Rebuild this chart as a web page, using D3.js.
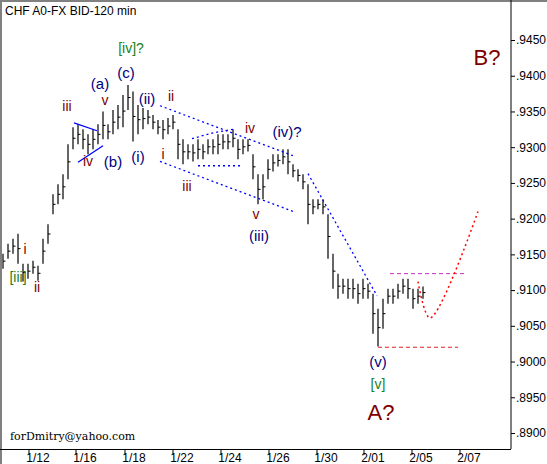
<!DOCTYPE html>
<html><head><meta charset="utf-8">
<script src="https://cdn.jsdelivr.net/npm/d3@7"></script>
<style>body{margin:0;background:#fff}svg{display:block;font-family:Arial,"Liberation Sans",sans-serif}</style>
</head><body><svg id="c" width="547" height="464"></svg>
<script>
const highs=[.9151,.9165,.9172,.9179,.9137,.9137,.9141,.9134,.9172,.9192,.9234,.9248,.9262,.9304,.9328,.9332,.9325,.9318,.9325,.9332,.9350,.9332,.9352,.9359,.9373,.9387,.9378,.9359,.9355,.9352,.9345,.9338,.9338,.9341,.9345,.9325,.9311,.9304,.9304,.9311,.9304,.9311,.9311,.9318,.9318,.9318,.9325,.9311,.9311,.9311,.9290,.9262,.9262,.9283,.9290,.9290,.9297,.9297,.9276,.9269,.9262,.9248,.9227,.9227,.9227,.9206,.9151,.9123,.9116,.9116,.9116,.9109,.9116,.9109,.9095,.9074,.9088,.9102,.9102,.9109,.9116,.9116,.9102,.9102,.9105];
const lows=[.9130,.9144,.9151,.9137,.9112,.9116,.9123,.9113,.9137,.9165,.9206,.9220,.9227,.9255,.9297,.9304,.9297,.9290,.9297,.9304,.9311,.9311,.9318,.9325,.9328,.9352,.9308,.9318,.9325,.9332,.9325,.9318,.9311,.9318,.9325,.9283,.9276,.9283,.9280,.9283,.9283,.9290,.9290,.9290,.9297,.9297,.9300,.9283,.9290,.9294,.9255,.9220,.9227,.9255,.9266,.9273,.9276,.9262,.9258,.9252,.9241,.9192,.9206,.9213,.9206,.9144,.9102,.9088,.9095,.9088,.9088,.9081,.9088,.9088,.9039,.9021,.9046,.9081,.9081,.9088,.9095,.9088,.9074,.9081,.9088];
const dateLabels=["1/12","1/16","1/18","1/22","1/24","1/26","1/30","2/01","2/05","2/07"];
const dateIdx=[7,16.4,26.2,35.8,45.4,55,64.6,74,83.6,93.2];
const priceTicks=d3.range(0.8900,0.94501,0.005);
const labels=[
 ["[iii]",3,.9118,"g"],["i",4.4,.9157,"m"],["ii",6.8,.9105,"m"],["iii",12.8,.9358,"m"],["v",20.4,.9366,"m"],
 ["iv",17,.9280,"m"],["(b)",22,.9280,"b"],["(a)",19.4,.9389,"b"],["(c)",24.6,.9404,"b"],["(i)",27,.9287,"b"],
 ["(ii)",28.8,.9368,"b"],["ii",33.6,.9371,"m"],["i",32,.9290,"m"],["iii",36.8,.9245,"m"],["[iv]?",25.6,.9439,"g"],
 ["iv",49.4,.9327,"m"],["(iv)?",56.8,.9322,"b"],["v",50.6,.9206,"m"],["(iii)",51.2,.9176,"b"],["(v)",75,.9000,"b"],
 ["[v]",75,.8968,"g"],["A?",75.6,.8928,"M"],["B?",96.8,.9425,"M"]];
const solidLines=[[[14.2,.9334],[18.8,.9323]],[[15,.9279],[20,.9302]]];
const blueDash=[[[31.4,.9358],[58.4,.9287]],[[31.4,.9280],[58.4,.9209]],[[37.8,.9312],[42,.9320],[46,.9325]],[[39,.9274],[47.8,.9274]],[[61,.9263],[74.8,.9092]]];
const magentaLine=[[77.4,.9123],[92.4,.9123]];
const redLine=[[75,.9020],[91,.9020]];
const forecast=[[83,.9112],[85.4,.9061],[95,.9210]];

const svg=d3.select("#c");
const x=d3.scaleLinear().domain([-0.6,101.6]).range([0,511]);
const y=d3.scaleLinear().domain([0.8900,0.9450]).range([433,40]);
const line=d3.line().x(d=>x(d[0])).y(d=>y(d[1]));

svg.append("line").attr("x1",0).attr("x2",547).attr("y1",1).attr("y2",1).attr("stroke","#808080").attr("stroke-width",2);
svg.append("line").attr("x1",1).attr("x2",1).attr("y1",0).attr("y2",464).attr("stroke","#808080").attr("stroke-width",2);
svg.append("text").attr("x",5).attr("y",15).attr("font-size",12).text("CHF A0-FX BID-120 min");
svg.append("text").attr("x",10).attr("y",440).attr("font-size",11).attr("font-family","'DejaVu Serif','Liberation Serif',serif").text("forDmitry@yahoo.com");

const ya=svg.append("g").attr("transform","translate(511,0)").call(d3.axisRight(y).tickValues(priceTicks).tickSize(4).tickFormat(d=>d3.format(".4f")(d).slice(1)));
ya.select(".domain").attr("d","M0,0V449");
ya.selectAll("text").attr("font-size",12).attr("font-family","Arial,'Liberation Sans'").attr("x",5);
svg.append("line").attr("x1",0).attr("x2",511).attr("y1",449.5).attr("y2",449.5).attr("stroke","#000");
const xa=svg.append("g");
dateIdx.forEach((d,i)=>{
 xa.append("line").attr("x1",x(d)-9).attr("x2",x(d)-9).attr("y1",449).attr("y2",455).attr("stroke","#000");
 xa.append("text").attr("x",x(d)).attr("y",462).attr("text-anchor","middle").attr("font-size",12).text(dateLabels[i]);
});

svg.append("g").selectAll("line").data(highs).join("line")
 .attr("x1",(d,i)=>x(i)).attr("x2",(d,i)=>x(i)).attr("y1",d=>y(d)).attr("y2",(d,i)=>y(lows[i]))
 .attr("stroke","#000").attr("stroke-width",1.2);
svg.append("g").selectAll("line").data(highs).join("line")
 .attr("x1",(d,i)=>x(i)).attr("x2",(d,i)=>x(i)+2.5).attr("y1",(d,i)=>y((d+lows[i])/2)).attr("y2",(d,i)=>y((d+lows[i])/2))
 .attr("stroke","#000").attr("stroke-width",1);

solidLines.forEach(l=>svg.append("path").attr("d",line(l)).attr("stroke","#0000ff").attr("fill","none").attr("stroke-width",1.3));
blueDash.forEach(l=>svg.append("path").attr("d",line(l)).attr("stroke","#0000ff").attr("fill","none").attr("stroke-width",1.3).attr("stroke-dasharray","2,3"));
svg.append("path").attr("d",line(magentaLine)).attr("stroke","#c030c0").attr("fill","none").attr("stroke-dasharray","4,3");
svg.append("path").attr("d",line(redLine)).attr("stroke","#e02020").attr("fill","none").attr("stroke-dasharray","4,3");
svg.append("path").attr("d",d3.line().x(d=>x(d[0])).y(d=>y(d[1])).curve(d3.curveCatmullRom)(forecast)).attr("stroke","#ff0000").attr("fill","none").attr("stroke-width",1.5).attr("stroke-dasharray","2,3");

const col={g:"#208020",m:"#800000",b:"#000080",M:"#800000"};
svg.append("g").selectAll("text").data(labels).join("text")
 .attr("x",d=>x(d[1])).attr("y",d=>y(d[2])).attr("text-anchor","middle").attr("dominant-baseline","central")
 .attr("fill",d=>col[d[3]]).attr("font-size",d=>d[3]=="M"?22:(d[3]=="b"?15:14)).text(d=>d[0]);
</script></body></html>
